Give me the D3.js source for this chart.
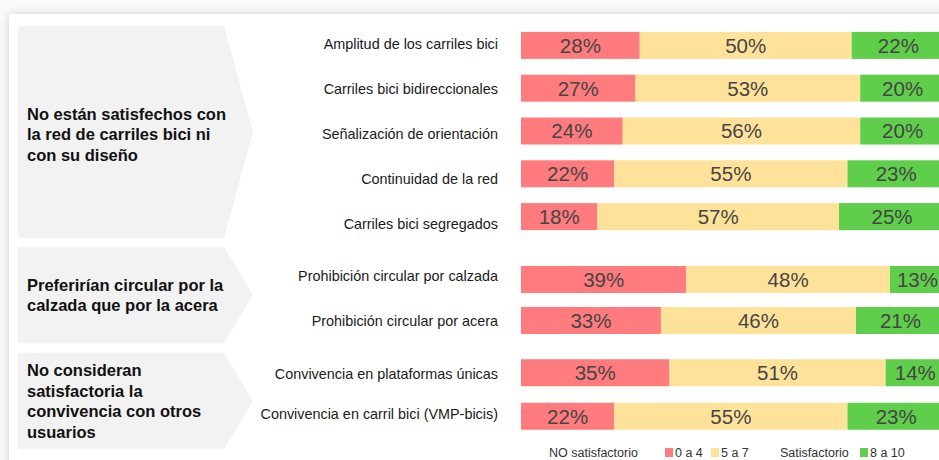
<!DOCTYPE html>
<html><head><meta charset="utf-8">
<script src="https://cdn.jsdelivr.net/npm/d3@7"></script>
<style>html,body{margin:0;padding:0;background:#fafafa;}svg{display:block;}</style>
</head><body>
<svg id="chart" width="939" height="460"></svg>
<script>
// ---- data ----
const groupTitles = [
  ["No están satisfechos con", "la red de carriles bici ni", "con su diseño"],
  ["Preferirían circular por la", "calzada que por la acera"],
  ["No consideran", "satisfactoria la", "convivencia con otros", "usuarios"]
];
const categories = [
  "Amplitud de los carriles bici",
  "Carriles bici bidireccionales",
  "Señalización de orientación",
  "Continuidad de la red",
  "Carriles bici segregados",
  "Prohibición circular por calzada",
  "Prohibición circular por acera",
  "Convivencia en plataformas únicas",
  "Convivencia en carril bici (VMP-bicis)"
];
const categoryGroup = [0,0,0,0,0,1,1,2,2];
const noSatisfactorio = [28,27,24,22,18,39,33,35,22];
const neutral = [50,53,56,55,57,48,46,51,55];
const satisfactorio = [22,20,20,23,25,13,21,14,23];
const seriesKeys = ["0 a 4","5 a 7","8 a 10"];
const legendGroupLabels = ["NO satisfactorio","Satisfactorio"];

// ---- layout ----
const svg = d3.select("#chart");
const W = 939, H = 460;
const FONT = "Liberation Sans, Arial, sans-serif";
const colors = d3.scaleOrdinal().domain(seriesKeys).range(["#ff7b7e","#ffe29a","#5fce4a"]);

// background + card
const defs = svg.append("defs");
const f = defs.append("filter").attr("id","sh").attr("x","-10%").attr("y","-10%").attr("width","130%").attr("height","130%");
f.append("feGaussianBlur").attr("in","SourceAlpha").attr("stdDeviation",5);
f.append("feComponentTransfer").append("feFuncA").attr("type","linear").attr("slope",0.18);
const fm = f.append("feMerge"); fm.append("feMergeNode"); fm.append("feMergeNode").attr("in","SourceGraphic");
svg.append("rect").attr("width",W).attr("height",H).attr("fill","#fafafa");
svg.append("rect").attr("x",9).attr("y",14).attr("width",W+40).attr("height",H+40)
  .attr("fill","#fff").attr("filter","url(#sh)");

// group panels
const panels = [[26,238],[247,343],[353,449]];
const barRanges = [[24,238],[259,341],[351,438]];
const labelRanges = [[22,246],[253.6,343],[354,434]];
const px0 = 18, px1 = 224, ptip = 253;

panels.forEach((p,gi)=>{
  const mid = (p[0]+p[1])/2;
  svg.append("path")
    .attr("d",`M${px0},${p[0]}L${px1},${p[0]}L${ptip},${mid}L${px1},${p[1]}L${px0},${p[1]}Z`)
    .attr("fill","#f2f2f2");
  const lines = groupTitles[gi];
  const lh = 20.5;
  const t = svg.append("text").attr("x",27).attr("font-family",FONT)
    .attr("font-size",16.5).attr("font-weight","bold").attr("fill","#111");
  lines.forEach((ln,i)=>{
    t.append("tspan").attr("x",27)
      .attr("y", (gi===0?134:mid) + (i-(lines.length-1)/2)*lh + 6)
      .text(ln);
  });
});

// scales
const x = d3.scaleLinear().domain([0,100]).range([521,945]);
const rows = categories.map((c,i)=>({cat:c, i, g:categoryGroup[i],
  vals:[noSatisfactorio[i], neutral[i], satisfactorio[i]]}));
const groupIdx = [0,1,2];
const yBar = groupIdx.map(g=>d3.scaleBand().domain(rows.filter(r=>r.g===g).map(r=>r.cat)).range(barRanges[g]).padding(0));
const yLab = groupIdx.map(g=>d3.scaleBand().domain(rows.filter(r=>r.g===g).map(r=>r.cat)).range(labelRanges[g]).padding(0));
const barH = 27;

rows.forEach(r=>{
  const yb = yBar[r.g], yl = yLab[r.g];
  const cy = yb(r.cat) + yb.bandwidth()/2;
  const ly = yl(r.cat) + yl.bandwidth()/2;
  svg.append("text").attr("x",498).attr("y",ly).attr("dy","0.35em")
    .attr("text-anchor","end").attr("font-family",FONT)
    .attr("font-size",14.4).attr("fill","#1a1a1a").text(r.cat);
  const stack = d3.stack().keys([0,1,2])([r.vals]);
  stack.forEach((s,k)=>{
    const a = s[0][0], b = s[0][1];
    svg.append("rect").attr("x",x(a)).attr("y",cy-barH/2)
      .attr("width",x(b)-x(a)).attr("height",barH)
      .attr("fill",colors(seriesKeys[k]));
    svg.append("text").attr("x",(x(a)+x(b))/2).attr("y",cy).attr("dy","0.36em")
      .attr("text-anchor","middle").attr("font-family",FONT)
      .attr("font-size",20.5).attr("fill","#454545").text(r.vals[k]+"%");
  });
});

// legend
const lg = svg.append("g").attr("font-family",FONT).attr("font-size",12.5).attr("fill","#333");
const ly = 457;
lg.append("text").attr("x",549).attr("y",ly).text(legendGroupLabels[0]);
const legItems = [{k:seriesKeys[0],x:665},{k:seriesKeys[1],x:711},{k:seriesKeys[2],x:860}];
legItems.forEach(it=>{
  lg.append("rect").attr("x",it.x).attr("y",ly-9).attr("width",8).attr("height",9).attr("fill",colors(it.k));
  lg.append("text").attr("x",it.x+10).attr("y",ly).text(it.k);
});
lg.append("text").attr("x",780).attr("y",ly).text(legendGroupLabels[1]);
</script>
</body></html>
